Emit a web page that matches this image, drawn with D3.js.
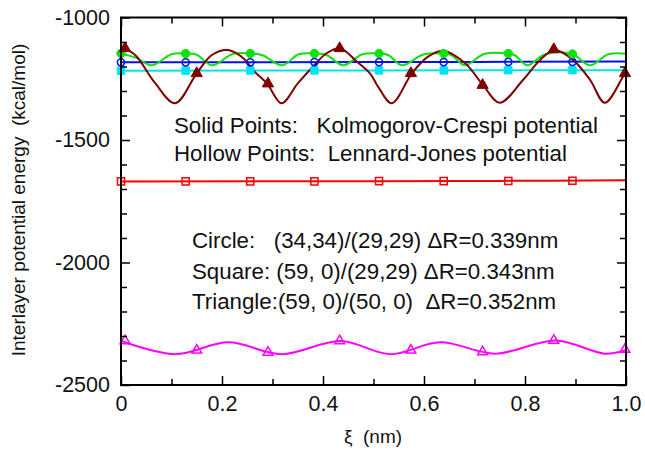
<!DOCTYPE html>
<html>
<head>
<meta charset="utf-8">
<script src="https://cdn.jsdelivr.net/npm/d3@7"></script>
<style>
  html, body { margin: 0; padding: 0; background: #fff; }
  svg { display: block; font-family: "Liberation Sans", Arial, sans-serif; }
</style>
</head>
<body>
<svg id="chart" width="645" height="470"></svg>
<script>
// ---------------- data ----------------
const xMajorTicks = [0, 0.2, 0.4, 0.6, 0.8, 1.0];
const xMinorTicks = [0.1, 0.3, 0.5, 0.7, 0.9];
const xTickLabels = ["0", "0.2", "0.4", "0.6", "0.8", "1.0"];
const yMajorTicks = [-2500, -2000, -1500, -1000];
const yMinorTicks = [-2400, -2300, -2200, -2100, -1900, -1800, -1700, -1600, -1400, -1300, -1200, -1100];
const yTickLabels = ["-2500", "-2000", "-1500", "-1000"];

// marker positions (xi, nm)
const circleX = [0, 0.128, 0.256, 0.383, 0.511, 0.639, 0.767, 0.894];
const triangleX = [0.008, 0.150, 0.291, 0.433, 0.574, 0.716, 0.857, 0.998];

// Circle, Kolmogorov-Crespi (green, solid circles)
const kcCircleCurveX = [0, 0.030, 0.061, 0.100, 0.127, 0.150, 0.180, 0.222, 0.255, 0.280, 0.319, 0.352, 0.384, 0.408, 0.440, 0.478, 0.510, 0.530, 0.556, 0.600, 0.638, 0.655, 0.681, 0.720, 0.765, 0.780, 0.804, 0.840, 0.893, 0.929, 0.965, 1.0];
const kcCircleCurveY = [-1147, -1165, -1195, -1150, -1147, -1152, -1195, -1148, -1147, -1154, -1195, -1150, -1147, -1154, -1195, -1150, -1147, -1154, -1195, -1150, -1147, -1154, -1195, -1148, -1147, -1154, -1195, -1150, -1149, -1195, -1150, -1148];
const kcCircleMarkY = [-1147, -1147, -1147, -1147, -1147, -1147, -1147, -1149];

// Circle, Lennard-Jones (blue, hollow circles)
const ljCircleCurveX = [0, 0.5, 1.0];
const ljCircleCurveY = [-1183, -1182, -1180];
const ljCircleMarkY = [-1183, -1183, -1183, -1182, -1182, -1182, -1181, -1181];

// Square, Kolmogorov-Crespi (cyan, solid squares)
const kcSquareCurveX = [0, 0.5, 1.0];
const kcSquareCurveY = [-1217, -1216, -1215];
const kcSquareMarkY = [-1217, -1217, -1216, -1216, -1216, -1216, -1215, -1215];

// Square, Lennard-Jones (red, hollow squares)
const ljSquareCurveX = [0, 0.5, 0.75, 1.0];
const ljSquareCurveY = [-1669, -1668, -1667, -1664];
const ljSquareMarkY = [-1669, -1669, -1669, -1669, -1668, -1668, -1667, -1666];

// Triangle, Kolmogorov-Crespi (dark red, solid triangles)
const kcTriCurveX = [0, 0.028, 0.067, 0.107, 0.150, 0.180, 0.212, 0.246, 0.261, 0.289, 0.318, 0.350, 0.380, 0.407, 0.434, 0.467, 0.493, 0.509, 0.536, 0.576, 0.608, 0.638, 0.681, 0.717, 0.750, 0.796, 0.830, 0.859, 0.895, 0.929, 0.958, 0.994, 1.0];
const kcTriCurveY = [-1120, -1153, -1266, -1350, -1228, -1153, -1133, -1173, -1214, -1269, -1350, -1269, -1201, -1146, -1126, -1180, -1228, -1282, -1350, -1228, -1160, -1136, -1186, -1276, -1348, -1255, -1173, -1133, -1173, -1255, -1348, -1242, -1222];
const kcTriMarkY = [-1126, -1228, -1270, -1126, -1228, -1276, -1130, -1228];

// Triangle, Lennard-Jones (magenta, hollow triangles)
const ljTriCurveX = [0, 0.107, 0.213, 0.318, 0.435, 0.533, 0.632, 0.741, 0.861, 0.958, 1.0];
const ljTriCurveY = [-2320, -2374, -2326, -2374, -2320, -2374, -2326, -2372, -2318, -2372, -2358];
const ljTriMarkY = [-2320, -2358, -2367, -2320, -2358, -2365, -2318, -2355];

const annotations = [
  "Solid Points:   Kolmogorov-Crespi potential",
  "Hollow Points:  Lennard-Jones potential",
  "Circle:   (34,34)/(29,29) \u0394R=0.339nm",
  "Square: (59, 0)/(29,29) \u0394R=0.343nm",
  "Triangle:(59, 0)/(50, 0)  \u0394R=0.352nm"
];

// ---------------- drawing ----------------
const svg = d3.select("#chart");
const L = 121, R = 626, T = 17.5, B = 385;
const x = d3.scaleLinear().domain([0, 1]).range([L, R]);
const y = d3.scaleLinear().domain([-2500, -1000]).range([B, T]);

const zip = (xs, ys) => xs.map((v, i) => [v, ys[i]]);
const line = d3.line().x(d => x(d[0])).y(d => y(d[1])).curve(d3.curveCatmullRom.alpha(0.5));

const plot = svg.append("g");
plot.append("clipPath").attr("id", "clip").append("rect")
  .attr("x", L).attr("y", T).attr("width", R - L).attr("height", B - T);
const curves = plot.append("g").attr("clip-path", "url(#clip)");

const series = [
  {cx: ljSquareCurveX, cy: ljSquareCurveY, mx: circleX, my: ljSquareMarkY, color: "#ff0000", sym: d3.symbolSquare, fill: false, size: 50},
  {cx: ljTriCurveX, cy: ljTriCurveY, mx: triangleX, my: ljTriMarkY, color: "#ff00ff", sym: d3.symbolTriangle, fill: false, size: 42},
  {cx: kcSquareCurveX, cy: kcSquareCurveY, mx: circleX, my: kcSquareMarkY, color: "#00e4f0", sym: d3.symbolSquare, fill: true, size: 55},
  {cx: ljCircleCurveX, cy: ljCircleCurveY, mx: circleX, my: ljCircleMarkY, color: "#0010f0", sym: d3.symbolCircle, fill: false, size: 40},
  {cx: kcCircleCurveX, cy: kcCircleCurveY, mx: circleX, my: kcCircleMarkY, color: "#10e010", sym: d3.symbolCircle, fill: true, size: 55},
  {cx: kcTriCurveX, cy: kcTriCurveY, mx: triangleX, my: kcTriMarkY, color: "#800000", sym: d3.symbolTriangle, fill: true, size: 55}
];

series.forEach(s => {
  curves.append("path")
    .datum(zip(s.cx, s.cy))
    .attr("d", line)
    .attr("fill", "none")
    .attr("stroke", s.color)
    .attr("stroke-width", 2);
});
series.forEach(s => {
  plot.append("g").selectAll("path")
    .data(zip(s.mx, s.my))
    .join("path")
    .attr("transform", d => `translate(${x(d[0])},${y(d[1])})`)
    .attr("d", d3.symbol().type(s.sym).size(s.size))
    .attr("fill", s.fill ? s.color : "none")
    .attr("stroke", s.color)
    .attr("stroke-width", s.fill ? 1 : 1.5);
});

// axes
function styleAxis(g) {
  g.select(".domain").remove();
  g.selectAll(".tick line").attr("stroke", "#000").attr("stroke-width", 1.5);
  g.selectAll(".tick text").attr("font-size", 21.5).attr("fill", "#111")
    .attr("font-family", "'Liberation Sans', Arial, sans-serif");
}
const axes = svg.append("g");
// left
axes.append("g").attr("transform", `translate(${L},0)`)
  .call(d3.axisLeft(y).tickValues(yMajorTicks).tickSize(-9).tickPadding(11)
    .tickFormat((d, i) => yTickLabels[i])).call(styleAxis);
axes.append("g").attr("transform", `translate(${L},0)`)
  .call(d3.axisLeft(y).tickValues(yMinorTicks).tickSize(-6).tickFormat("")).call(styleAxis);
// right
axes.append("g").attr("transform", `translate(${R},0)`)
  .call(d3.axisRight(y).tickValues(yMajorTicks).tickSize(-9).tickFormat("")).call(styleAxis);
axes.append("g").attr("transform", `translate(${R},0)`)
  .call(d3.axisRight(y).tickValues(yMinorTicks).tickSize(-6).tickFormat("")).call(styleAxis);
// bottom
axes.append("g").attr("transform", `translate(0,${B})`)
  .call(d3.axisBottom(x).tickValues(xMajorTicks).tickSize(-9).tickPadding(11)
    .tickFormat((d, i) => xTickLabels[i])).call(styleAxis);
axes.append("g").attr("transform", `translate(0,${B})`)
  .call(d3.axisBottom(x).tickValues(xMinorTicks).tickSize(-6).tickFormat("")).call(styleAxis);
// top
axes.append("g").attr("transform", `translate(0,${T})`)
  .call(d3.axisTop(x).tickValues(xMajorTicks).tickSize(-9).tickFormat("")).call(styleAxis);
axes.append("g").attr("transform", `translate(0,${T})`)
  .call(d3.axisTop(x).tickValues(xMinorTicks).tickSize(-6).tickFormat("")).call(styleAxis);

// frame
axes.append("rect").attr("x", L).attr("y", T).attr("width", R - L).attr("height", B - T)
  .attr("fill", "none").attr("stroke", "#000").attr("stroke-width", 2);

// axis titles
svg.append("text")
  .attr("transform", `translate(25,200) rotate(-90)`)
  .attr("text-anchor", "middle")
  .attr("font-size", 19).attr("fill", "#111")
  .style("white-space", "pre")
  .text("Interlayer potential energy  (kcal/mol)");
svg.append("text")
  .attr("x", 373).attr("y", 443)
  .attr("text-anchor", "middle")
  .attr("font-size", 19).attr("fill", "#111")
  .style("white-space", "pre")
  .text("\u03BE  (nm)");

// annotations
const annPos = [[174, 133], [174, 161], [192, 248], [192, 279], [192, 309]];
svg.append("g").selectAll("text")
  .data(annotations)
  .join("text")
  .attr("x", (d, i) => annPos[i][0])
  .attr("y", (d, i) => annPos[i][1])
  .attr("font-size", 22.3).attr("fill", "#111")
  .style("white-space", "pre")
  .text(d => d);
</script>
</body>
</html>
